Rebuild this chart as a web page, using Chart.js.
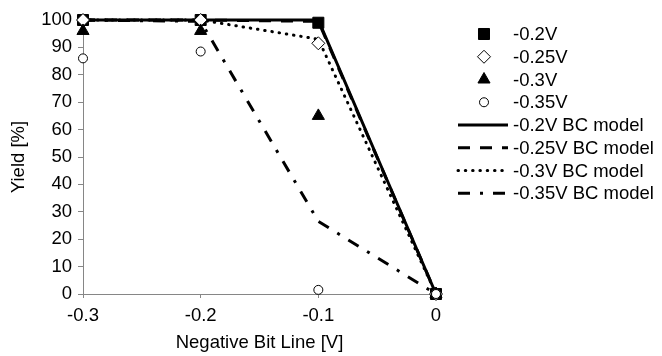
<!DOCTYPE html>
<html lang="en">
<head>
<meta charset="UTF-8">
<title>Yield vs Negative Bit Line</title>
<script src="https://cdn.jsdelivr.net/npm/chart.js"></script>
<style>
    html, body { margin: 0; padding: 0; background: #fff; }
    .chart-container { width: 662px; height: 356px; position: relative; }
</style>
</head>
<body>
<div class="chart-container"><canvas id="yieldChart"></canvas></div>
<script>
// x positions (negative bit line voltage, V)
const bitLine = [-0.3, -0.2, -0.1, 0];

// measured yield (%)
const meas02 = [100, 100, 99, 0];
const meas025 = [100, 100, 91.5, 0];
const meas03 = [96, 96, 65, 0];
const meas035 = [86, 88.5, 1.5, 0];

// BC model yield (%)
const model02 = [100, 100, 100, 0];
const model025 = [100, 100, 99.5, 0];
const model03 = [100, 100, 93, 0];
const model035 = [100, 99.5, 26.5, 0];

const seriesLabels = ['-0.2V', '-0.25V', '-0.3V', '-0.35V',
    '-0.2V BC model', '-0.25V BC model', '-0.3V BC model', '-0.35V BC model'];

const FONT = 'Liberation Sans, Arial, sans-serif';
const FSIZE = 18.5;
const AXIS = '#868686';

function pts(ys) {
    return bitLine.map((x, i) => ({ x: x, y: ys[i] }));
}

function markerSet(label, ys, style, radius, fill, order) {
    return {
        label: label,
        data: pts(ys),
        showLine: false,
        pointStyle: style,
        pointRadius: radius,
        pointHoverRadius: radius,
        pointBackgroundColor: fill,
        pointBorderColor: '#000',
        pointBorderWidth: 1,
        clip: false,
        order: order
    };
}

function lineSet(label, ys, dash, cap) {
    return {
        label: label,
        data: pts(ys),
        showLine: true,
        borderColor: '#000',
        borderWidth: 3,
        borderDash: dash,
        borderCapStyle: cap,
        pointRadius: 0,
        pointHoverRadius: 0,
        clip: false,
        order: 10
    };
}

// legend drawn at the right, like the spreadsheet one
function drawMarker(ctx, style, x, y, r, fill) {
    ctx.beginPath();
    if (style === 'rect') {
        const s = Math.SQRT1_2 * r;
        ctx.rect(x - s, y - s, 2 * s, 2 * s);
    } else if (style === 'rectRot') {
        ctx.moveTo(x, y - r); ctx.lineTo(x + r, y); ctx.lineTo(x, y + r); ctx.lineTo(x - r, y);
        ctx.closePath();
    } else if (style === 'triangle') {
        ctx.moveTo(x, y - r);
        ctx.lineTo(x + r * Math.sin(Math.PI / 3), y + r / 2);
        ctx.lineTo(x - r * Math.sin(Math.PI / 3), y + r / 2);
        ctx.closePath();
    } else {
        ctx.arc(x, y, r, 0, Math.PI * 2);
    }
    ctx.fillStyle = fill;
    ctx.fill();
    ctx.lineWidth = 1;
    ctx.strokeStyle = '#000';
    ctx.stroke();
}

const sideLegend = {
    id: 'sideLegend',
    afterDraw(chart) {
        const ctx = chart.ctx;
        const xMark = 484, xText = 513, top = 34, step = 22.75;
        chart.data.datasets.forEach((ds, i) => {
            const y = top + i * step;
            ctx.save();
            if (ds.showLine) {
                ctx.strokeStyle = ds.borderColor;
                ctx.lineWidth = ds.borderWidth;
                ctx.setLineDash(ds.borderDash || []);
                ctx.lineCap = ds.borderCapStyle || 'butt';
                ctx.beginPath();
                ctx.moveTo(xMark - 26, y);
                ctx.lineTo(xMark + 24, y);
                ctx.stroke();
            } else {
                drawMarker(ctx, ds.pointStyle, xMark, y, ds.pointRadius, ds.pointBackgroundColor);
            }
            ctx.setLineDash([]);
            ctx.fillStyle = '#000';
            ctx.font = FSIZE + 'px ' + FONT;
            ctx.textBaseline = 'middle';
            ctx.textAlign = 'left';
            ctx.fillText(ds.label, xText, y + 1);
            ctx.restore();
        });
    }
};

const ctx = document.getElementById('yieldChart').getContext('2d');
new Chart(ctx, {
    type: 'scatter',
    data: {
        datasets: [
            markerSet(seriesLabels[0], meas02, 'rect', 7.8, '#000', 4),
            markerSet(seriesLabels[1], meas025, 'rectRot', 6.5, '#fff', 3),
            markerSet(seriesLabels[2], meas03, 'triangle', 7, '#000', 2),
            markerSet(seriesLabels[3], meas035, 'circle', 4.5, '#fff', 1),
            lineSet(seriesLabels[4], model02, [], 'butt'),
            lineSet(seriesLabels[5], model025, [12, 10], 'butt'),
            lineSet(seriesLabels[6], model03, [0.5, 6.8], 'round'),
            lineSet(seriesLabels[7], model035, [12, 10, 3, 10], 'butt')
        ]
    },
    options: {
        responsive: true,
        maintainAspectRatio: false,
        animation: false,
        events: [],
        layout: { padding: { left: 0, right: 226, top: 20, bottom: 0 } },
        plugins: {
            legend: { display: false },
            tooltip: { enabled: false }
        },
        scales: {
            x: {
                type: 'linear',
                min: -0.3,
                max: 0,
                afterFit: s => { s.height = 62; },
                border: { color: AXIS, width: 1 },
                grid: { drawOnChartArea: false, drawTicks: true, tickLength: 4, color: AXIS },
                ticks: {
                    stepSize: 0.1,
                    padding: 7,
                    color: '#000',
                    font: { family: FONT, size: FSIZE },
                    callback: v => Math.abs(v) < 1e-9 ? '0' : Number(v).toFixed(1)
                },
                title: {
                    display: true,
                    text: 'Negative Bit Line [V]',
                    color: '#000',
                    font: { family: FONT, size: FSIZE },
                    padding: { top: 0, bottom: 2 }
                }
            },
            y: {
                min: 0,
                max: 100,
                afterFit: s => { s.width = 83; },
                border: { color: AXIS, width: 1 },
                grid: { drawOnChartArea: false, drawTicks: true, tickLength: 5, color: AXIS },
                ticks: {
                    stepSize: 10,
                    padding: 6,
                    color: '#000',
                    font: { family: FONT, size: FSIZE }
                },
                title: {
                    display: true,
                    text: 'Yield [%]',
                    color: '#000',
                    font: { family: FONT, size: FSIZE },
                    padding: { top: 8, bottom: 0 }
                }
            }
        }
    },
    plugins: [sideLegend]
});
</script>
</body>
</html>
